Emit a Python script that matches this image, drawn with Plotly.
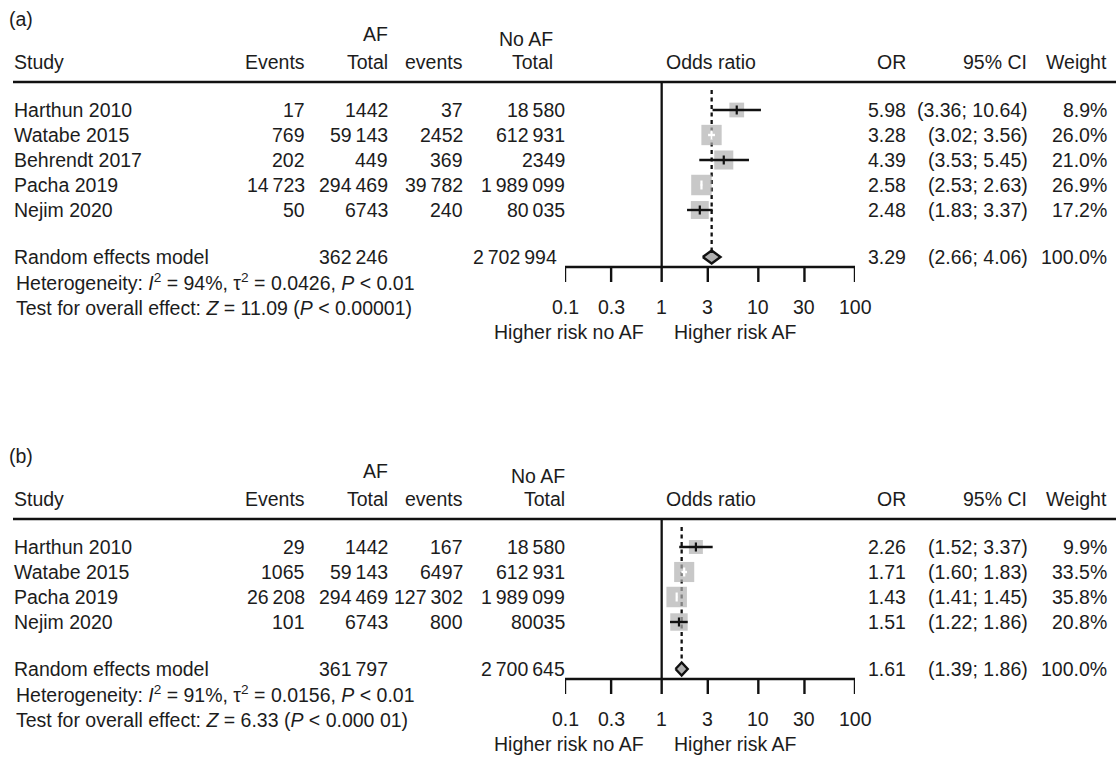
import plotly.graph_objects as go
import math

# ---------------- data ----------------
studies_a = ["Harthun 2010", "Watabe 2015", "Behrendt 2017", "Pacha 2019", "Nejim 2020"]
af_events_a = ["17", "769", "202", "14 723", "50"]
af_total_a = ["1442", "59 143", "449", "294 469", "6743"]
noaf_events_a = ["37", "2452", "369", "39 782", "240"]
noaf_total_a = ["18 580", "612 931", "2349", "1 989 099", "80 035"]
or_a = [5.98, 3.28, 4.39, 2.58, 2.48]
lo_a = [3.36, 3.02, 3.53, 2.53, 1.83]
hi_a = [10.64, 3.56, 5.45, 2.63, 3.37]
# CI whiskers as drawn in the picture (Behrendt's drawn whisker is wider than its printed CI)
lo_drawn_a = [3.36, 3.02, 2.45, 2.53, 1.83]
hi_drawn_a = [10.64, 3.56, 8.0, 2.63, 3.37]
w_a = [8.9, 26.0, 21.0, 26.9, 17.2]
pooled_a = [3.29, 2.66, 4.06]
totals_a = ["362 246", "2 702 994"]
het_a = "Heterogeneity: <i>I</i><sup>2</sup> = 94%, \u03c4<sup>2</sup> = 0.0426, <i>P</i> &lt; 0.01"
test_a = "Test for overall effect: <i>Z</i> = 11.09 (<i>P</i> &lt; 0.00001)"

studies_b = ["Harthun 2010", "Watabe 2015", "Pacha 2019", "Nejim 2020"]
af_events_b = ["29", "1065", "26 208", "101"]
af_total_b = ["1442", "59 143", "294 469", "6743"]
noaf_events_b = ["167", "6497", "127 302", "800"]
noaf_total_b = ["18 580", "612 931", "1 989 099", "80035"]
or_b = [2.26, 1.71, 1.43, 1.51]
lo_b = [1.52, 1.60, 1.41, 1.22]
hi_b = [3.37, 1.83, 1.45, 1.86]
lo_drawn_b = list(lo_b)
hi_drawn_b = list(hi_b)
w_b = [9.9, 33.5, 35.8, 20.8]
pooled_b = [1.61, 1.39, 1.86]
totals_b = ["361 797", "2 700 645"]
het_b = "Heterogeneity: <i>I</i><sup>2</sup> = 91%, \u03c4<sup>2</sup> = 0.0156, <i>P</i> &lt; 0.01"
test_b = "Test for overall effect: <i>Z</i> = 6.33 (<i>P</i> &lt; 0.000 01)"

tick_vals = [0.1, 0.3, 1, 3, 10, 30, 100]
tick_labels = ["0.1", "0.3", "1", "3", "10", "30", "100"]
headers = ["Study", "Events", "Total", "events", "Total", "Odds ratio", "OR", "95% CI", "Weight"]

# ---------------- layout constants ----------------
W, H = 1116, 758
X0PX, X1PX = 565, 855          # pixel positions of 0.1 and 100
PXDEC = (X1PX - X0PX) / 3.0
FONT = "Liberation Sans, Arial, Helvetica, sans-serif"
FS = 19.5
TXT = "#1c1c1c"
GREY = "#b0b0b0"
INK = "#111111"

fig = go.Figure()
annotations = []


def ts(s):
    return s.replace(" ", "\u2009")


def txt(x, y, s, anchor="right", size=FS):
    annotations.append(dict(
        x=x / W, xref="paper", y=y, yref="y", text=s, showarrow=False,
        xanchor=anchor, yanchor="middle", font=dict(family=FONT, size=size, color=TXT),
        borderpad=0))


def panel(label, top, studies, ev1, tot1, ev2, tot2, ors, los, his, dlos, dhis, ws, pooled, totals,
          het, test, noaf_right):
    label_y = top + 19
    af_y = top + 34
    noaf_y = top + 39
    head_y = top + 62
    line_y = top + 82
    row0 = top + 110
    step = 25
    rows = [row0 + i * step for i in range(len(studies))]
    pooled_y = rows[-1] + 47
    axis_y = pooled_y + 10

    # header texts
    txt(8, label_y, label, "left")
    txt(389, af_y, "AF")
    txt(noaf_right, noaf_y, "No AF")
    txt(13, head_y, headers[0], "left")
    txt(306, head_y, headers[1])
    txt(389, head_y, headers[2])
    txt(464, head_y, headers[3])
    txt(noaf_right, head_y, headers[4])
    txt(711, head_y, headers[5], "center")
    txt(907, head_y, headers[6])
    txt(1028, head_y, headers[7])
    txt(1108, head_y, headers[8])

    # header rule
    fig.add_shape(type="line", xref="paper", yref="y", x0=13 / W, x1=1.0, y0=line_y, y1=line_y,
                  line=dict(color=INK, width=2.5))

    # study rows
    for i, y in enumerate(rows):
        txt(13, y, studies[i], "left")
        txt(306, y, ts(ev1[i]))
        txt(389, y, ts(tot1[i]))
        txt(464, y, ts(ev2[i]))
        txt(566, y, ts(tot2[i]))
        txt(907, y, f"{ors[i]:.2f}")
        txt(1029, y, f"({los[i]:.2f}; {his[i]:.2f})")
        txt(1108, y, f"{ws[i]:.1f}%")

    # pooled row texts
    txt(13, pooled_y, "Random effects model", "left")
    txt(389, pooled_y, ts(totals[0]))
    txt(566 if noaf_right > 560 else 558, pooled_y, ts(totals[1]))
    txt(907, pooled_y, f"{pooled[0]:.2f}")
    txt(1029, pooled_y, f"({pooled[1]:.2f}; {pooled[2]:.2f})")
    txt(1108, pooled_y, "100.0%")
    txt(15, axis_y + 15, het, "left")
    txt(15, axis_y + 41, test, "left")

    # reference line at OR = 1
    fig.add_trace(go.Scatter(x=[1, 1], y=[line_y, axis_y], mode="lines",
                             line=dict(color=INK, width=2.3), hoverinfo="skip"))
    # dotted line at pooled estimate
    fig.add_trace(go.Scatter(x=[pooled[0], pooled[0]], y=[line_y + 8, pooled_y - 7], mode="lines",
                             line=dict(color=INK, width=2.3, dash="4px,3.5px"), hoverinfo="skip"))

    # squares
    wmax = max(ws)
    sizes = [20.5 * (w / wmax) ** 0.3 for w in ws]
    fig.add_trace(go.Scatter(x=ors, y=rows, mode="markers",
                             marker=dict(symbol="square", size=sizes, color=GREY, line=dict(width=0)),
                             hoverinfo="skip"))
    # CI whiskers and point ticks
    for i, y in enumerate(rows):
        half = sizes[i] / 2
        est_px = PXDEC * math.log10(ors[i])
        inside = (est_px - PXDEC * math.log10(dlos[i]) < half) and \
                 (PXDEC * math.log10(dhis[i]) - est_px < half)
        col = "white" if inside else INK
        fig.add_trace(go.Scatter(x=[dlos[i], dhis[i]], y=[y, y], mode="lines",
                                 line=dict(color=col, width=2.4), hoverinfo="skip"))
        fig.add_trace(go.Scatter(x=[ors[i], ors[i]], y=[y - 4.5, y + 4.5], mode="lines",
                                 line=dict(color=col, width=2.2), hoverinfo="skip"))

    # diamond
    fig.add_trace(go.Scatter(x=[pooled[1], pooled[0], pooled[2], pooled[0], pooled[1]],
                             y=[pooled_y, pooled_y - 6.5, pooled_y, pooled_y + 6.5, pooled_y],
                             mode="lines", fill="toself", fillcolor=GREY,
                             line=dict(color=INK, width=2.4), hoverinfo="skip"))

    # x axis line with ticks
    tx, ty = [tick_vals[0], tick_vals[-1]], [axis_y, axis_y]
    for t in tick_vals:
        tx += [None, t, t]
        ty += [None, axis_y, axis_y + 15]
    fig.add_trace(go.Scatter(x=tx, y=ty, mode="lines", line=dict(color=INK, width=2.4),
                             hoverinfo="skip"))
    for t, lab in zip(tick_vals, tick_labels):
        annotations.append(dict(x=math.log10(t), xref="x", y=axis_y + 40, yref="y", text=lab,
                                showarrow=False, xanchor="center", yanchor="middle", borderpad=0,
                                font=dict(family=FONT, size=FS, color=TXT)))
    txt(645, axis_y + 65, "Higher risk no AF", "right")
    txt(673, axis_y + 65, "Higher risk AF", "left")


panel("(a)", 0, studies_a, af_events_a, af_total_a, noaf_events_a, noaf_total_a,
      or_a, lo_a, hi_a, lo_drawn_a, hi_drawn_a, w_a, pooled_a, totals_a, het_a, test_a, 554)
panel("(b)", 437, studies_b, af_events_b, af_total_b, noaf_events_b, noaf_total_b,
      or_b, lo_b, hi_b, lo_drawn_b, hi_drawn_b, w_b, pooled_b, totals_b, het_b, test_b, 566)

fig.update_layout(
    width=W, height=H, margin=dict(l=0, r=0, t=0, b=0),
    paper_bgcolor="white", plot_bgcolor="white", showlegend=False,
    xaxis=dict(type="log", range=[-1, 2], domain=[X0PX / W, X1PX / W], visible=False, fixedrange=True),
    yaxis=dict(range=[H, 0], domain=[0, 1], visible=False, fixedrange=True),
    annotations=annotations,
)

fig.write_html(
    "out.html",
    config={"displayModeBar": False},
    post_script="document.body.style.margin='0px';document.body.style.padding='0px';"
                "document.body.style.overflow='hidden';",
)
